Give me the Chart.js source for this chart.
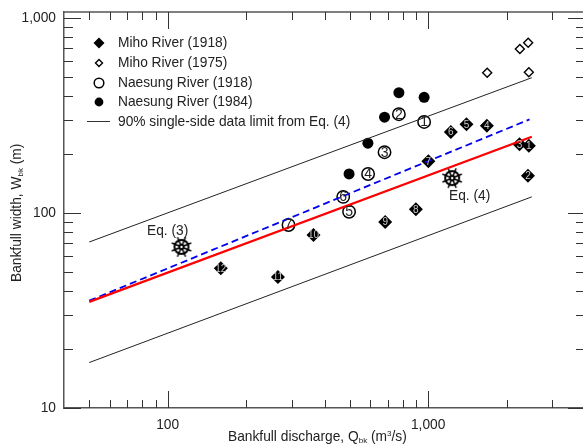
<!DOCTYPE html>
<html>
<head>
<meta charset="utf-8">
<title>Bankfull width vs discharge</title>
<script src="https://cdn.jsdelivr.net/npm/chart.js@4"></script>
<style>
html, body { margin: 0; padding: 0; background: #fff; overflow: hidden; width: 583px; height: 444px; }
canvas { display: block; }
</style>
</head>
<body>
<canvas id="chart" width="600" height="444"></canvas>
<script>
// values
var mihoQ1918 = [2435, 2415, 2242, 1680, 1403, 1222, 1002, 897, 684, 363, 265, 160];
var mihoW1918 = [221, 155, 225, 280, 285, 260, 184, 104.5, 90, 77, 47, 52];
var mihoQ1975 = [2421, 2249, 1685, 2435];
var mihoW1975 = [747, 693, 524, 527];
var naesungQ1918 = [965, 772, 680, 588, 497, 472, 291];
var naesungW1918 = [293, 321, 205, 158.5, 101.5, 121, 86.8];
var naesungQ1984 = [772, 965, 680, 587, 497];
var naesungW1984 = [414, 392, 310, 228, 158.5];
var lineQ = [50, 2500];
var upperW = [71, 494];
var lowerW = [17.1, 121];
var redW = [35, 246];
var blueQ = [50, 2450];
var blueW = [35.5, 302];
var eq3Q = [113], eq3W = [67];
var eq4Q = [1236], eq4W = [151];
var xMajor = [100, 1000];
var xMinor = [50, 60, 70, 80, 90, 200, 300, 400, 500, 600, 700, 800, 900, 2000, 3000];
var yMajor = [10, 100, 1000];
var yMinor = [20, 30, 40, 50, 60, 70, 80, 90, 200, 300, 400, 500, 600, 700, 800, 900];

var FONT = '"Liberation Sans", Arial, sans-serif';
var TEXT_SIZE = 13.75;

function pts(xs, ys) {
    return xs.map(function(x, i) { return { x: x, y: ys[i] }; });
}

// little ship wheel used for the Eq. (3) and Eq. (4) marks
function makeWheel() {
    var c = document.createElement('canvas');
    c.width = 24; c.height = 24;
    var g = c.getContext('2d');
    g.translate(12, 12);
    g.strokeStyle = '#000';
    g.lineWidth = 2;
    g.beginPath(); g.arc(0, 0, 7, 0, Math.PI * 2); g.stroke();
    g.beginPath(); g.arc(0, 0, 2.2, 0, Math.PI * 2); g.stroke();
    for (var i = 0; i < 8; i++) {
        var a = i * Math.PI / 4 + Math.PI / 8;
        g.lineWidth = 1.5;
        g.beginPath();
        g.moveTo(Math.cos(a) * 2, Math.sin(a) * 2);
        g.lineTo(Math.cos(a) * 10.5, Math.sin(a) * 10.5);
        g.stroke();
    }
    return c;
}
var wheel = makeWheel();

// ticks point inward on all four sides, so they are drawn here from the scales
var frameTicks = {
    id: 'frameTicks',
    afterDatasetsDraw: function(chart) {
        var ctx = chart.ctx, a = chart.chartArea, sx = chart.scales.x, sy = chart.scales.y;
        ctx.save();
        ctx.strokeStyle = '#555';
        ctx.lineWidth = 1.5;
        ctx.beginPath();
        ctx.moveTo(a.left, a.top); ctx.lineTo(a.right, a.top); ctx.lineTo(a.right, a.bottom);
        ctx.stroke();
        ctx.strokeStyle = '#333';
        ctx.lineWidth = 1;
        function xTick(v, len) {
            var p = Math.round(sx.getPixelForValue(v)) + 0.5;
            ctx.beginPath();
            ctx.moveTo(p, a.bottom); ctx.lineTo(p, a.bottom - len);
            ctx.moveTo(p, a.top); ctx.lineTo(p, a.top + len);
            ctx.stroke();
        }
        function yTick(v, len) {
            var p = Math.round(sy.getPixelForValue(v)) + 0.5;
            ctx.beginPath();
            ctx.moveTo(a.left, p); ctx.lineTo(a.left + len, p);
            ctx.moveTo(a.right, p); ctx.lineTo(a.right - len, p);
            ctx.stroke();
        }
        xMajor.forEach(function(v) { xTick(v, 17); });
        xMinor.forEach(function(v) { xTick(v, 8); });
        yMajor.forEach(function(v) { yTick(v, 17); });
        yMinor.forEach(function(v) { yTick(v, 9); });
        ctx.restore();
    }
};

// numbers inside the markers
var pointNumbers = {
    id: 'pointNumbers',
    afterDatasetsDraw: function(chart) {
        var ctx = chart.ctx, sx = chart.scales.x, sy = chart.scales.y;
        ctx.save();
        ctx.textAlign = 'center';
        ctx.textBaseline = 'middle';
        ctx.font = '10px ' + FONT;
        ctx.fillStyle = '#ccc';
        mihoQ1918.forEach(function(q, i) {
            ctx.fillText(String(i + 1), sx.getPixelForValue(q), sy.getPixelForValue(mihoW1918[i]) + 0.5);
        });
        ctx.font = '14px ' + FONT;
        ctx.fillStyle = '#222';
        naesungQ1918.forEach(function(q, i) {
            ctx.fillText(String(i + 1), sx.getPixelForValue(q), sy.getPixelForValue(naesungW1918[i]) + 0.5);
        });
        ctx.restore();
    }
};

// legend and the axis titles (these need sub/superscripts)
var annotations = {
    id: 'annotations',
    afterDraw: function(chart) {
        var ctx = chart.ctx;
        ctx.save();
        ctx.fillStyle = '#222';
        ctx.textBaseline = 'middle';
        ctx.textAlign = 'left';
        ctx.font = TEXT_SIZE + 'px ' + FONT;
        var names = ['Miho River (1918)', 'Miho River (1975)', 'Naesung River (1918)',
            'Naesung River (1984)', '90% single-side data limit from Eq. (4)'];
        var rows = [43, 63, 83, 102, 122];
        names.forEach(function(t, i) { ctx.fillText(t, 118, rows[i]); });

        ctx.fillStyle = '#000';
        ctx.strokeStyle = '#000';
        ctx.beginPath();
        ctx.moveTo(99, 43 - 5.5); ctx.lineTo(104.5, 43); ctx.lineTo(99, 43 + 5.5); ctx.lineTo(93.5, 43);
        ctx.closePath(); ctx.fill();
        ctx.lineWidth = 1.4;
        ctx.beginPath();
        ctx.moveTo(99, 63 - 3.5); ctx.lineTo(102.5, 63); ctx.lineTo(99, 63 + 3.5); ctx.lineTo(95.5, 63);
        ctx.closePath(); ctx.stroke();
        ctx.lineWidth = 1.5;
        ctx.beginPath(); ctx.arc(99, 83, 4.8, 0, Math.PI * 2); ctx.stroke();
        ctx.beginPath(); ctx.arc(99, 102, 4.4, 0, Math.PI * 2); ctx.fill();
        ctx.lineWidth = 1;
        ctx.strokeStyle = '#333';
        ctx.beginPath(); ctx.moveTo(87, 121.5); ctx.lineTo(110, 121.5); ctx.stroke();

        ctx.fillStyle = '#222';
        ctx.font = TEXT_SIZE + 'px ' + FONT;
        ctx.fillText('Eq. (3)', 147, 231);
        ctx.fillText('Eq. (4)', 449, 196);

        // x title
        ctx.textBaseline = 'alphabetic';
        var x = 228, y = 441;
        function piece(t, size, dy) {
            ctx.font = size + 'px ' + FONT;
            ctx.fillText(t, x, y + dy);
            x += ctx.measureText(t).width;
        }
        piece('Bankfull discharge, Q', TEXT_SIZE, 0);
        piece('bk', 8, 2);
        piece(' (m', TEXT_SIZE, 0);
        piece('3', 8, -5);
        piece('/s)', TEXT_SIZE, 0);

        // y title
        ctx.translate(21, 282);
        ctx.rotate(-Math.PI / 2);
        x = 0; y = 0;
        piece('Bankfull width, W', TEXT_SIZE, 0);
        piece('bk', 8, 2);
        piece(' (m)', TEXT_SIZE, 0);
        ctx.restore();
    }
};

function lineSet(xs, ys, color, width, dash) {
    return {
        type: 'line', data: pts(xs, ys), borderColor: color, borderWidth: width,
        borderDash: dash || [], pointRadius: 0, fill: false, tension: 0
    };
}

new Chart(document.getElementById('chart'), {
    type: 'scatter',
    data: {
        datasets: [
            lineSet(lineQ, upperW, '#222', 1),
            lineSet(lineQ, lowerW, '#222', 1),
            lineSet(lineQ, redW, '#ff0000', 2.2),
            lineSet(blueQ, blueW, '#0000ee', 1.8, [7, 4]),
            { label: 'Miho River (1918)', data: pts(mihoQ1918, mihoW1918), pointStyle: 'rectRot', pointRadius: 7,
              backgroundColor: '#000', borderColor: '#000', borderWidth: 0 },
            { label: 'Miho River (1975)', data: pts(mihoQ1975, mihoW1975), pointStyle: 'rectRot', pointRadius: 4.5,
              backgroundColor: '#fff', borderColor: '#000', borderWidth: 1.4 },
            { label: 'Naesung River (1918)', data: pts(naesungQ1918, naesungW1918), pointStyle: 'circle', pointRadius: 6.2,
              backgroundColor: 'rgba(255,255,255,0)', borderColor: '#000', borderWidth: 1.5 },
            { label: 'Naesung River (1984)', data: pts(naesungQ1984, naesungW1984), pointStyle: 'circle', pointRadius: 5.5,
              backgroundColor: '#000', borderColor: '#000', borderWidth: 0 },
            { label: 'Eq. (3)', data: pts(eq3Q, eq3W), pointStyle: wheel },
            { label: 'Eq. (4)', data: pts(eq4Q, eq4W), pointStyle: wheel }
        ]
    },
    options: {
        responsive: false,
        animation: false,
        events: [],
        layout: { padding: { top: 12, right: 15, left: 0, bottom: 0 } },
        plugins: { legend: { display: false }, tooltip: { enabled: false } },
        scales: {
            x: {
                type: 'logarithmic', min: 40, max: 4000,
                afterFit: function(s) { s.height = 36; s.paddingLeft = 0; s.paddingRight = 0; },
                grid: { display: true, drawOnChartArea: false, drawTicks: false, color: '#555' },
                border: { display: true, color: '#555', width: 1.5 },
                afterBuildTicks: function(s) { s.ticks = xMajor.map(function(v) { return { value: v, major: true }; }); },
                ticks: {
                    color: '#222', font: { family: FONT, size: TEXT_SIZE }, padding: 9, maxRotation: 0, autoSkip: false,
                    callback: function(v) { return Number(v).toLocaleString('en-US'); }
                }
            },
            y: {
                type: 'logarithmic', min: 10, max: 1073,
                afterFit: function(s) { s.width = 64; s.paddingTop = 0; s.paddingBottom = 0; },
                grid: { display: true, drawOnChartArea: false, drawTicks: false, color: '#555' },
                border: { display: true, color: '#555', width: 1.5 },
                afterBuildTicks: function(s) { s.ticks = yMajor.map(function(v) { return { value: v, major: true }; }); },
                ticks: {
                    color: '#222', font: { family: FONT, size: TEXT_SIZE }, padding: 8, autoSkip: false,
                    callback: function(v) { return Number(v).toLocaleString('en-US'); }
                }
            }
        }
    },
    plugins: [frameTicks, pointNumbers, annotations]
});
</script>
</body>
</html>
